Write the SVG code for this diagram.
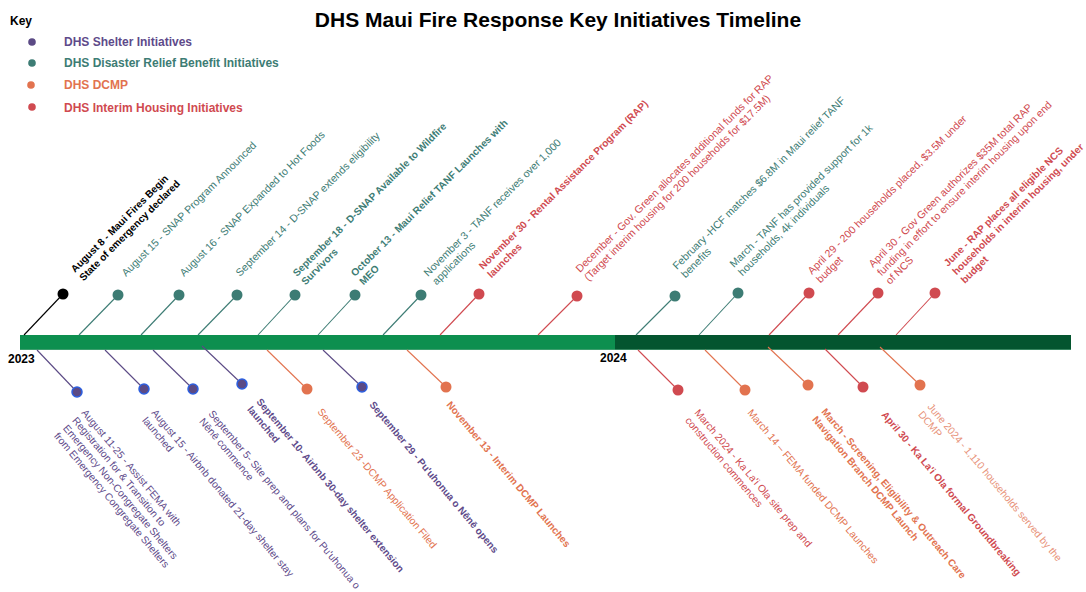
<svg xmlns="http://www.w3.org/2000/svg" width="1086" height="592" viewBox="0 0 1086 592">
  <style>
    text { font-family: "Liberation Sans", Arial, sans-serif; }
    .title { font-size: 21px; font-weight: bold; fill: #000; }
    .key { font-size: 12px; font-weight: bold; fill: #000; }
    .leg { font-size: 12px; font-weight: bold; }
    .yr { font-size: 12px; font-weight: bold; fill: #000; }
    .up { font-size: 10.6px; }
    .dn { font-size: 10.3px; }
    .b { font-weight: bold; }
    .up.b { font-size: 10.1px; }
    .dn.b { font-size: 10px; }
    .sh { fill: #5e4a8a; }
    .dr { fill: #3d7c74; }
    .dc { fill: #e2734f; }
    .dcl { fill: #e8937a; }
    .ih { fill: #d04a50; }
    .bk { fill: #000; }
    .dot-sh { fill: #5b4a85; stroke: #2c5fe0; stroke-width: 1.5; }
    .ln { stroke-width: 1.1; fill: none; }
    .ln-sh { stroke: #5b4a85; }
    .ln-dr { stroke: #3d7c74; }
    .ln-dc { stroke: #e2734f; }
    .ln-ih { stroke: #d04a50; }
    .ln-bk { stroke: #000; }
  </style>

  <!-- title -->
  <text class="title" x="558" y="27" text-anchor="middle">DHS Maui Fire Response Key Initiatives Timeline</text>

  <!-- key -->
  <g id="key">
    <text class="key" x="10" y="25">Key</text>
    <circle cx="32" cy="42" r="3.8" fill="#5b4a85"/>
    <text class="leg sh" x="64" y="46">DHS Shelter Initiatives</text>
    <circle cx="32" cy="63" r="3.8" fill="#3d7c74"/>
    <text class="leg dr" x="64" y="67">DHS Disaster Relief Benefit Initiatives</text>
    <circle cx="31" cy="85" r="3.8" fill="#e2734f"/>
    <text class="leg dc" x="64" y="89">DHS DCMP</text>
    <circle cx="32" cy="107" r="3.8" fill="#d04a50"/>
    <text class="leg ih" x="64" y="112">DHS Interim Housing Initiatives</text>
  </g>

  <!-- timeline bar -->
  <g id="timeline">
    <rect x="20" y="335" width="595" height="15" fill="#0d8f4f"/>
    <rect x="615" y="335" width="456" height="15" fill="#04552f"/>
    <line x1="20" y1="349.5" x2="1071" y2="349.5" stroke="#5aa882" stroke-width="1" opacity="0.6"/>
    <text class="yr" x="8" y="363">2023</text>
    <text class="yr" x="600" y="362">2024</text>
  </g>

  <!-- connectors -->
  <g id="connectors" class="ln">
    <!-- above the bar -->
    <line class="ln-bk" x1="24" y1="335" x2="63" y2="294"/>
    <line class="ln-dr" x1="79" y1="335" x2="118" y2="295"/>
    <line class="ln-dr" x1="141" y1="335" x2="179" y2="295"/>
    <line class="ln-dr" x1="198" y1="335" x2="237" y2="295"/>
    <line class="ln-dr" x1="258" y1="335" x2="295" y2="295"/>
    <line class="ln-dr" x1="318" y1="335" x2="355" y2="295"/>
    <line class="ln-dr" x1="383" y1="335" x2="421" y2="295"/>
    <line class="ln-ih" x1="440" y1="335" x2="479" y2="294"/>
    <line class="ln-ih" x1="538" y1="335" x2="577" y2="296"/>
    <line class="ln-dr" x1="636" y1="335" x2="675" y2="296"/>
    <line class="ln-dr" x1="699" y1="335" x2="738" y2="293"/>
    <line class="ln-ih" x1="769" y1="335" x2="809" y2="293"/>
    <line class="ln-ih" x1="838" y1="335" x2="878" y2="293"/>
    <line class="ln-ih" x1="896" y1="335" x2="935" y2="293"/>
    <!-- below the bar -->
    <line class="ln-sh" x1="37" y1="350" x2="77" y2="392"/>
    <line class="ln-sh" x1="105" y1="350" x2="144" y2="389"/>
    <line class="ln-sh" x1="153" y1="350" x2="193" y2="389"/>
    <line class="ln-sh" x1="202" y1="346" x2="242" y2="384"/>
    <line class="ln-dc" x1="267" y1="350" x2="307" y2="389"/>
    <line class="ln-sh" x1="323" y1="350" x2="362" y2="387"/>
    <line class="ln-dc" x1="407" y1="350" x2="446" y2="387"/>
    <line class="ln-ih" x1="638" y1="350" x2="678" y2="390"/>
    <line class="ln-dc" x1="705" y1="350" x2="745" y2="390"/>
    <line class="ln-dc" x1="768" y1="347" x2="808" y2="385"/>
    <line class="ln-ih" x1="825" y1="349" x2="863" y2="387"/>
    <line class="ln-dc" x1="880" y1="347" x2="920" y2="385"/>
  </g>

  <!-- events above the bar -->
  <g id="ev-aug08">
    <circle cx="63" cy="294" r="5.5" fill="#000"/>
    <text class="up b bk" transform="translate(75 273) rotate(-45)"><tspan x="0">August 8 - Maui Fires Begin</tspan><tspan x="0" dy="12">State of emergency declared</tspan></text>
  </g>
  <g id="ev-aug15-snap">
    <circle cx="118" cy="295" r="5.5" fill="#3d7c74"/>
    <text class="up dr" transform="translate(126 277) rotate(-45)">August 15 - SNAP Program Announced</text>
  </g>
  <g id="ev-aug16-snap">
    <circle cx="179" cy="295" r="5.5" fill="#3d7c74"/>
    <text class="up dr" transform="translate(184 277) rotate(-45)">August 16 - SNAP Expanded to Hot Foods</text>
  </g>
  <g id="ev-sep14-dsnap">
    <circle cx="237" cy="295" r="5.5" fill="#3d7c74"/>
    <text class="up dr" transform="translate(240 277) rotate(-45)">September 14 - D-SNAP extends eligibility</text>
  </g>
  <g id="ev-sep18-dsnap">
    <circle cx="295" cy="295" r="5.5" fill="#3d7c74"/>
    <text class="up b dr" transform="translate(297 277) rotate(-45)"><tspan x="0">September 18 - D-SNAP Available to Wildfire</tspan><tspan x="0" dy="12">Survivors</tspan></text>
  </g>
  <g id="ev-oct13-tanf">
    <circle cx="355" cy="295" r="5.5" fill="#3d7c74"/>
    <text class="up b dr" transform="translate(355 277) rotate(-45)"><tspan x="0">October 13 - Maui Relief TANF Launches with</tspan><tspan x="0" dy="12">MEO</tspan></text>
  </g>
  <g id="ev-nov03-tanf">
    <circle cx="421" cy="295" r="5.5" fill="#3d7c74"/>
    <text class="up dr" transform="translate(428 277) rotate(-45)"><tspan x="0">November 3 - TANF receives over 1,000</tspan><tspan x="0" dy="12">applications</tspan></text>
  </g>
  <g id="ev-nov30-rap">
    <circle cx="479" cy="294" r="5.5" fill="#d04a50"/>
    <text class="up b ih" transform="translate(483 270) rotate(-45)"><tspan x="0">November 30 - Rental Assistance Program (RAP)</tspan><tspan x="0" dy="12">launches</tspan></text>
  </g>
  <g id="ev-dec-rap-funds">
    <circle cx="577" cy="296" r="5.5" fill="#d04a50"/>
    <text class="up ih" transform="translate(580 273) rotate(-45)"><tspan x="0">December - Gov. Green allocates additional funds for RAP</tspan><tspan x="0" dy="12">(Target interim housing for 200 households for $17.5M)</tspan></text>
  </g>
  <g id="ev-feb-hcf">
    <circle cx="675" cy="296" r="5.5" fill="#3d7c74"/>
    <text class="up dr" transform="translate(677 270) rotate(-45)"><tspan x="0">February -HCF matches $6.8M in Maui relief TANF</tspan><tspan x="0" dy="12">benefits</tspan></text>
  </g>
  <g id="ev-mar-tanf">
    <circle cx="738" cy="293" r="5.5" fill="#3d7c74"/>
    <text class="up dr" transform="translate(734 268) rotate(-45)"><tspan x="0">March - TANF has provided support for 1k</tspan><tspan x="0" dy="12">households, 4k individuals</tspan></text>
  </g>
  <g id="ev-apr29-placed">
    <circle cx="809" cy="293" r="5.5" fill="#d04a50"/>
    <text class="up ih" transform="translate(812 275) rotate(-45)"><tspan x="0">April 29 - 200 households placed, $3.5M under</tspan><tspan x="0" dy="12">budget</tspan></text>
  </g>
  <g id="ev-apr30-rap">
    <circle cx="878" cy="293" r="5.5" fill="#d04a50"/>
    <text class="up ih" transform="translate(873 268) rotate(-45)"><tspan x="0">April 30 - Gov Green authorizes $35M total RAP</tspan><tspan x="0" dy="12">funding in effort to ensure interim housing upon end</tspan><tspan x="0" dy="12">of NCS</tspan></text>
  </g>
  <g id="ev-jun-rap">
    <circle cx="935" cy="293" r="5.5" fill="#d04a50"/>
    <text class="up b ih" transform="translate(948 267) rotate(-45)"><tspan x="0">June - RAP places all eligible NCS</tspan><tspan x="0" dy="12">households in interim housing, under</tspan><tspan x="0" dy="12">budget</tspan></text>
  </g>

  <!-- events below the bar -->
  <g id="ev-aug11-fema">
    <circle class="dot-sh" cx="77" cy="392" r="5"/>
    <text class="dn sh" transform="translate(81 413) rotate(50)"><tspan x="0">August 11-25 - Assist FEMA with</tspan><tspan x="0" dy="12">Registration for &amp; Transition to</tspan><tspan x="0" dy="12">Emergency Non-Congregate Shelters</tspan><tspan x="0" dy="12">from Emergency Congregate Shelters</tspan></text>
  </g>
  <g id="ev-aug15-airbnb">
    <circle class="dot-sh" cx="144" cy="389" r="5"/>
    <text class="dn sh" transform="translate(151 413) rotate(50)"><tspan x="0">August 15 - Airbnb donated 21-day shelter stay</tspan><tspan x="0" dy="12">launched</tspan></text>
  </g>
  <g id="ev-sep05-site">
    <circle class="dot-sh" cx="193" cy="389" r="5"/>
    <text class="dn sh" transform="translate(208 414) rotate(50)"><tspan x="0">September 5- Site prep and plans for Pu'uhonua o</tspan><tspan x="0" dy="12">Nēnē commence</tspan></text>
  </g>
  <g id="ev-sep10-airbnb">
    <circle class="dot-sh" cx="242" cy="384" r="5"/>
    <text class="dn b sh" transform="translate(256 402) rotate(50)"><tspan x="0">September 10- Airbnb 30-day shelter extension</tspan><tspan x="0" dy="12">launched</tspan></text>
  </g>
  <g id="ev-sep23-dcmp">
    <circle cx="307" cy="389" r="5.5" fill="#e2734f"/>
    <text class="dn dc" transform="translate(317 412) rotate(50)">September 23 -DCMP Application Filed</text>
  </g>
  <g id="ev-sep29-opens">
    <circle class="dot-sh" cx="362" cy="387" r="5"/>
    <text class="dn b sh" transform="translate(369 405) rotate(50)">September 29 - Pu'uhonua o Nēnē opens</text>
  </g>
  <g id="ev-nov13-dcmp">
    <circle cx="446" cy="387" r="5.5" fill="#e2734f"/>
    <text class="dn b dc" transform="translate(446 405) rotate(50)">November 13 - Interim DCMP Launches</text>
  </g>
  <g id="ev-mar-kalaiola">
    <circle cx="678" cy="390" r="5.5" fill="#d04a50"/>
    <text class="dn ih" transform="translate(694 413) rotate(50)"><tspan x="0">March 2024 - Ka La'i Ola site prep and</tspan><tspan x="0" dy="12">construction commences</tspan></text>
  </g>
  <g id="ev-mar14-fema">
    <circle cx="745" cy="390" r="5.5" fill="#e2734f"/>
    <text class="dn dc" transform="translate(747 413) rotate(50)">March 14 – FEMA funded DCMP Launches</text>
  </g>
  <g id="ev-mar-screening">
    <circle cx="808" cy="385" r="5.5" fill="#e2734f"/>
    <text class="dn b dc" transform="translate(821 412) rotate(50)"><tspan x="0">March - Screening, Eligibility &amp; Outreach Care</tspan><tspan x="0" dy="12">Navigation Branch DCMP Launch</tspan></text>
  </g>
  <g id="ev-apr30-groundbreaking">
    <circle cx="863" cy="387" r="5.5" fill="#d04a50"/>
    <text class="dn b ih" transform="translate(881 415) rotate(50)">April 30 - Ka La'i Ola formal Groundbreaking</text>
  </g>
  <g id="ev-jun-households">
    <circle cx="920" cy="385" r="5.5" fill="#e2734f"/>
    <text class="dn dcl" transform="translate(927 407) rotate(50)"><tspan x="0">June 2024 - 1,110 households served by the</tspan><tspan x="0" dy="12">DCMP</tspan></text>
  </g>
</svg>
